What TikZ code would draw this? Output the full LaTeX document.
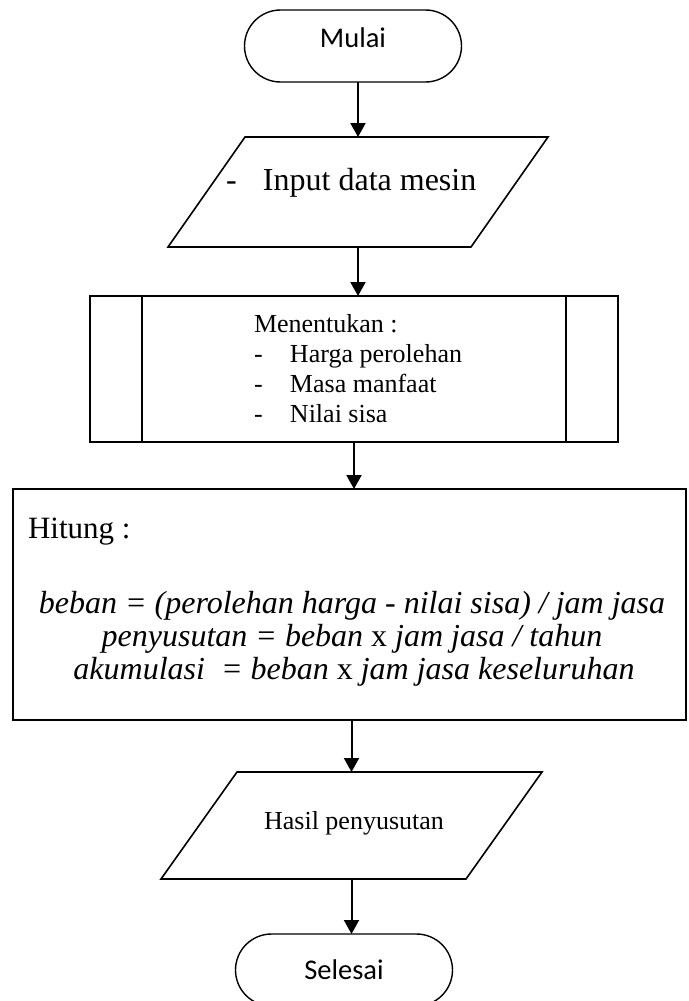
\documentclass[tikz,border=0pt]{standalone}
\usepackage{fontspec}
\setmainfont{Liberation Serif}
\newfontfamily\calibri{Carlito}
\usetikzlibrary{shapes.misc,arrows.meta,calc}
\begin{document}
\begin{tikzpicture}[x=1pt,y=-1pt,
  every node/.style={inner sep=0pt,outer sep=0pt},
  term/.style={draw,line width=1.4pt,rounded rectangle,minimum width=217pt,
    minimum height=72pt,font=\calibri\fontsize{28.5}{34}\selectfont},
  frame/.style={draw,line width=2.2pt,rectangle},
  io/.style={line width=1.6pt},
  hold/.style={draw=none,rectangle},
  flow/.style={line width=2pt,-{Triangle[length=14pt,width=15pt]}},
  body/.style={font=\fontsize{26}{30}\selectfont},
  big/.style={font=\fontsize{32}{36}\selectfont},
  calc/.style={font=\fontsize{32}{34}\selectfont\itshape}]
\useasboundingbox (0,0) rectangle (688,1001);

% start terminator
\node[term,text depth=16pt] (start) at (353,46) {Mulai};

% input parallelogram
\node[hold,minimum width=380pt,minimum height=110pt] (inp) at (358,192) {};
\draw[io] ($(inp.north west)+(77,0)$) -- (inp.north east)
  -- ($(inp.south east)-(77,0)$) -- (inp.south west) -- cycle;
\node[big,anchor=base west] (inptxt) at (226,190)
  {\makebox[37pt][l]{-}Input data mesin};

% predefined process
\node[frame,minimum width=528pt,minimum height=146pt] (proc) at (354,369) {};
\draw[line width=2pt] ([xshift=52pt]proc.north west) -- ([xshift=52pt]proc.south west);
\draw[line width=2pt] ([xshift=-52pt]proc.north east) -- ([xshift=-52pt]proc.south east);
\node[body,anchor=base west] (p0) at (254,332) {Menentukan :};
\node[body,anchor=base west] (p1) at (254,362) {\makebox[36pt][l]{-}Harga perolehan};
\node[body,anchor=base west] (p2) at (254,392) {\makebox[36pt][l]{-}Masa manfaat};
\node[body,anchor=base west] (p3) at (254,422) {\makebox[36pt][l]{-}Nilai sisa};

% calculation box
\node[frame,line width=2pt,minimum width=673pt,minimum height=231pt] (hit) at (349.5,604.5) {};
\node[font=\fontsize{31}{34}\selectfont,anchor=base west] (h0) at (28,538) {Hitung :};
\node[calc,anchor=base] (h1) at (352,613)
  {beban = (perolehan harga - nilai sisa) / jam jasa};
\node[calc,anchor=base] (h2) at (352,646)
  {penyusutan = beban \textup{x} jam jasa / tahun};
\node[calc,anchor=base] (h3) at (354,679)
  {akumulasi\ \ = beban \textup{x} jam jasa keseluruhan};

% output parallelogram
\node[hold,minimum width=381pt,minimum height=107pt] (out) at (351.5,825.5) {};
\draw[io] ($(out.north west)+(76,0)$) -- (out.north east)
  -- ($(out.south east)-(76,0)$) -- (out.south west) -- cycle;
\node[body,anchor=base] (outtxt) at (354,829) {Hasil penyusutan};

% end terminator
\node[term] (stop) at (344,970) {Selesai};

% connectors
\draw[flow] (inp.north |- start.south) -- (inp.north);
\draw[flow] (inp.south) -- (inp.south |- proc.north);
\draw[flow] (proc) -- (proc |- hit.north);
\draw[flow] (hit.south -| out.north) -- (out.north);
\draw[flow] (out) -- (out |- stop.north);
\end{tikzpicture}
\end{document}
